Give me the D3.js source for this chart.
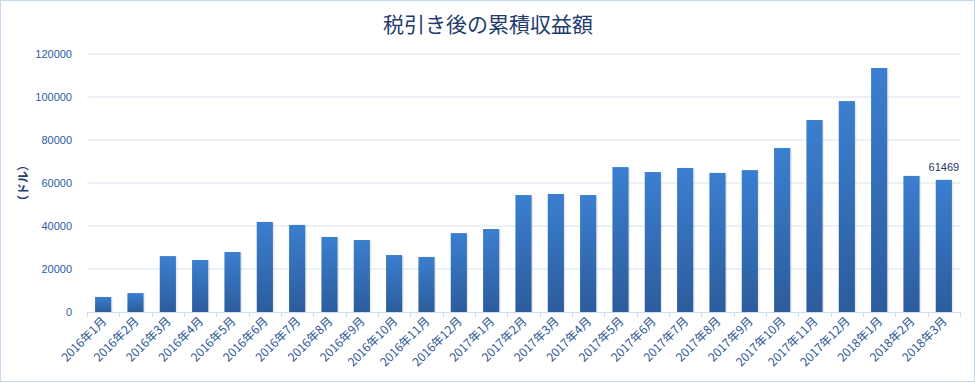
<!DOCTYPE html>
<html>
<head>
<meta charset="utf-8">
<script src="https://cdn.jsdelivr.net/npm/d3@7"></script>
<style>
  body { margin: 0; background: #fff; }
  svg { display: block; font-family: "Noto Sans CJK JP", "Noto Sans", sans-serif; }
</style>
</head>
<body>
<div id="chart"></div>
<script>
// after-tax cumulative earnings, monthly

let months = [
  "2016年1月", "2016年2月", "2016年3月", "2016年4月", "2016年5月", "2016年6月",
  "2016年7月", "2016年8月", "2016年9月", "2016年10月", "2016年11月", "2016年12月",
  "2017年1月", "2017年2月", "2017年3月", "2017年4月", "2017年5月", "2017年6月",
  "2017年7月", "2017年8月", "2017年9月", "2017年10月", "2017年11月", "2017年12月",
  "2018年1月", "2018年2月", "2018年3月"
];

let earnings = [
  7000, 8800, 26000, 24200, 27900, 41900,
  40500, 34900, 33500, 26500, 25600, 36700,
  38600, 54400, 54900, 54400, 67400, 65100,
  67000, 64700, 66000, 76300, 89300, 98100,
  113500, 63300, 61469
];

let yTicks = [0, 20000, 40000, 60000, 80000, 100000, 120000];

let titleText = "税引き後の累積収益額";
let yTitle = "（ドル）";

function chart(id) {
  let width = 975, height = 383;
  let margin = {top: 54, right: 15, bottom: 71, left: 87};

  let svg = d3.select(id).append("svg")
    .attr("width", width)
    .attr("height", height);

  // gradient + border
  let defs = svg.append("defs");
  let grad = defs.append("linearGradient")
    .attr("id", "barGrad")
    .attr("x1", 0).attr("y1", 0).attr("x2", 0).attr("y2", 1);
  grad.append("stop").attr("offset", "0%").attr("stop-color", "#3b7fd0");
  grad.append("stop").attr("offset", "100%").attr("stop-color", "#2c5c9c");

  svg.append("rect")
    .attr("x", 0.5).attr("y", 0.5)
    .attr("width", width - 1).attr("height", height - 2)
    .attr("fill", "#fff")
    .attr("stroke", "#c6d9f0");

  let x = d3.scaleBand()
    .domain(months)
    .range([margin.left, width - margin.right])
    .paddingInner(0.5)
    .paddingOuter(0.25);

  let y = d3.scaleLinear()
    .domain([0, 120000])
    .range([height - margin.bottom, margin.top]);

  // gridlines
  svg.append("g")
    .selectAll("line")
    .data(yTicks.slice(1))
    .enter()
    .append("line")
    .attr("x1", margin.left)
    .attr("x2", width - margin.right)
    .attr("y1", d => y(d))
    .attr("y2", d => y(d))
    .attr("stroke", "#d9e4f1")
    .attr("stroke-width", 1);

  // y axis labels
  let yAxis = svg.append("g")
    .attr("transform", "translate(" + (margin.left - 15) + ",0)")
    .call(d3.axisLeft(y).tickValues(yTicks).tickSize(0).tickPadding(0).tickFormat(d3.format("d")));
  yAxis.select(".domain").remove();
  yAxis.selectAll("text")
    .attr("fill", "#2d5ca6")
    .style("font-family", "Liberation Sans, Arial, sans-serif")
    .style("font-size", "11px");

  // bar shadows
  svg.append("g")
    .selectAll("rect")
    .data(earnings)
    .enter()
    .append("rect")
    .attr("x", (d, i) => x(months[i]) + 1.5)
    .attr("y", d => y(d) + 1)
    .attr("width", x.bandwidth())
    .attr("height", d => y(0) - y(d) - 1)
    .attr("fill", "#000")
    .attr("opacity", 0.08);

  // bars
  svg.append("g")
    .selectAll("rect")
    .data(earnings)
    .enter()
    .append("rect")
    .attr("x", (d, i) => x(months[i]))
    .attr("y", d => y(d))
    .attr("width", x.bandwidth())
    .attr("height", d => y(0) - y(d))
    .attr("fill", "url(#barGrad)");

  // x axis with ticks between categories
  let bounds = d3.range(months.length + 1).map(i => margin.left + i * (width - margin.left - margin.right) / months.length);
  let axisG = svg.append("g");
  axisG.append("line")
    .attr("x1", margin.left).attr("x2", width - margin.right)
    .attr("y1", y(0) + 0.5).attr("y2", y(0) + 0.5)
    .attr("stroke", "#cddbec");
  axisG.selectAll("line.tick")
    .data(bounds)
    .enter()
    .append("line")
    .attr("class", "tick")
    .attr("x1", d => Math.round(d) + 0.5).attr("x2", d => Math.round(d) + 0.5)
    .attr("y1", y(0)).attr("y2", y(0) + 5)
    .attr("stroke", "#cddbec");

  axisG.selectAll("text")
    .data(months)
    .enter()
    .append("text")
    .attr("transform", d => "translate(" + (x(d) + x.bandwidth() / 2 + 4) + "," + (y(0) + 10) + ")rotate(-45)")
    .attr("text-anchor", "end")
    .attr("fill", "#2c5896")
    .style("font-size", "12px")
    .text(d => d);

  // last value label
  let last = months.length - 1;
  svg.append("text")
    .attr("x", x(months[last]) + x.bandwidth() / 2)
    .attr("y", y(earnings[last]) - 9)
    .attr("text-anchor", "middle")
    .attr("fill", "#1f3864")
    .style("font-family", "Liberation Sans, Arial, sans-serif")
    .style("font-size", "11px")
    .text(earnings[last]);

  // title
  svg.append("text")
    .attr("x", 488)
    .attr("y", 32)
    .attr("text-anchor", "middle")
    .attr("fill", "#1f3c6e")
    .style("font-size", "21px")
    .text(titleText);

  // y title
  svg.append("text")
    .attr("transform", "translate(28," + y(60000) + ")rotate(-90)")
    .attr("text-anchor", "middle")
    .attr("fill", "#1f3c6e")
    .style("font-size", "12px")
    .style("font-weight", "bold")
    .text(yTitle);
}

chart("#chart");
</script>
</body>
</html>
